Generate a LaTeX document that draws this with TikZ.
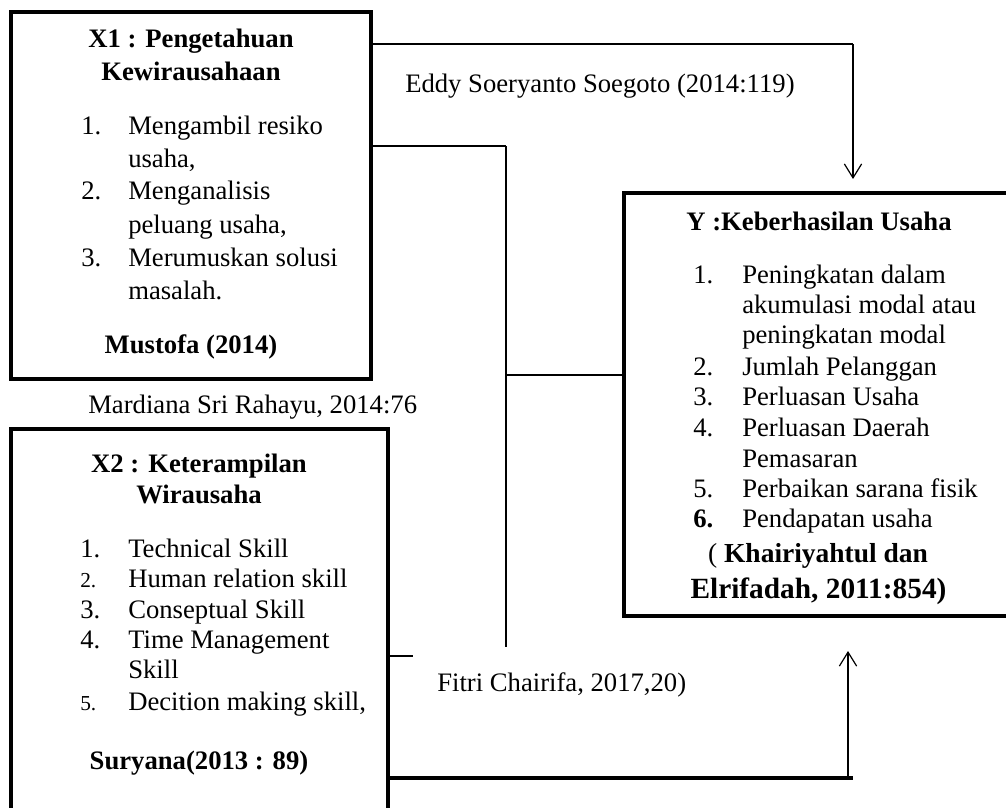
\documentclass[tikz,border=0pt]{standalone}
\usepackage{fontspec}
\setmainfont{Liberation Serif}
\usetikzlibrary{arrows.meta}
\begin{document}
\begin{tikzpicture}[x=0.75pt,y=-0.75pt,
  txt/.style={inner sep=0pt, anchor=base west, font=\fontsize{20}{24}\selectfont},
  ctr/.style={inner sep=0pt, anchor=base, font=\fontsize{20}{24}\selectfont\bfseries},
  smallnum/.style={inner sep=0pt, anchor=base west, font=\fontsize{16}{20}\selectfont},
  boxline/.style={line width=2.4pt, line join=miter},
  thickcon/.style={line width=1.8pt},
  thincon/.style={line width=0.9pt},
  arr/.style={thincon, -{Straight Barb[length=10.5pt,width=13pt,line width=0.9pt]}}]
\useasboundingbox (0,0) rectangle (1006,807);

% ---- boxes ----
\coordinate (x1tl) at (11,12);
\coordinate (x1br) at (371,379);
\draw[boxline] (x1tl) rectangle (x1br);

\coordinate (x2bl) at (11,812);
\coordinate (x2tl) at (11,429);
\coordinate (x2tr) at (388,429);
\coordinate (x2br) at (388,812);
\draw[boxline] (x2bl) -- (x2tl) -- (x2tr) -- (x2br);

\coordinate (ytr) at (1012,193);
\coordinate (ytl) at (624,193);
\coordinate (ybl) at (624,616);
\coordinate (ybr) at (1012,616);
\draw[boxline] (ytr) -- (ytl) -- (ybl) -- (ybr);

% ---- X1 text ----
\node[ctr] (x1t1) at (191,47) {X1 : Pengetahuan};
\node[ctr] (x1t2) at (191,80) {Kewirausahaan};
\node[txt] (x1n1) at (81,134) {1.};
\node[txt] (x1i1) at (128,134) {Mengambil resiko};
\node[txt] (x1i1b) at (128,167) {usaha,};
\node[txt] (x1n2) at (81,199) {2.};
\node[txt] (x1i2) at (128,199) {Menganalisis};
\node[txt] (x1i2b) at (128,233) {peluang usaha,};
\node[txt] (x1n3) at (81,266) {3.};
\node[txt] (x1i3) at (128,266) {Merumuskan solusi};
\node[txt] (x1i3b) at (128,299) {masalah.};
\node[ctr] (x1src) at (191,353) {Mustofa (2014)};

% ---- X2 text ----
\node[ctr] (x2t1) at (199,472) {X2 : Keterampilan};
\node[ctr] (x2t2) at (199,503) {Wirausaha};
\node[txt] (x2n1) at (80,557) {1.};
\node[txt] (x2i1) at (128,557) {Technical Skill};
\node[smallnum] (x2n2) at (80,587) {2.};
\node[txt] (x2i2) at (128,587) {Human relation skill};
\node[txt] (x2n3) at (80,618) {3.};
\node[txt] (x2i3) at (128,618) {Conseptual Skill};
\node[txt] (x2n4) at (80,648) {4.};
\node[txt] (x2i4) at (128,648) {Time Management};
\node[txt] (x2i4b) at (128,678) {Skill};
\node[smallnum] (x2n5) at (80,710) {5.};
\node[txt] (x2i5) at (128,710) {Decition making skill,};
\node[ctr] (x2src) at (199,769) {Suryana(2013 : 89)};

% ---- Y text ----
\node[ctr] (yt) at (819,230) {Y :Keberhasilan Usaha};
\node[txt] (yn1) at (693,283) {1.};
\node[txt] (yi1) at (742,283) {Peningkatan dalam};
\node[txt] (yi1b) at (742,313) {akumulasi modal atau};
\node[txt] (yi1c) at (742,343) {peningkatan modal};
\node[txt] (yn2) at (693,375) {2.};
\node[txt] (yi2) at (742,375) {Jumlah Pelanggan};
\node[txt] (yn3) at (693,405) {3.};
\node[txt] (yi3) at (742,405) {Perluasan Usaha};
\node[txt] (yn4) at (693,436) {4.};
\node[txt] (yi4) at (742,436) {Perluasan Daerah};
\node[txt] (yi4b) at (742,467) {Pemasaran};
\node[txt] (yn5) at (693,497) {5.};
\node[txt] (yi5) at (742,497) {Perbaikan sarana fisik};
\node[txt, font=\fontsize{20}{24}\selectfont\bfseries] (yn6) at (693,527) {6.};
\node[txt] (yi6) at (742,527) {Pendapatan usaha};
\node[inner sep=0pt, anchor=base, font=\fontsize{20.6}{24}\selectfont] (ysrc1) at (818,562) {( \textbf{Khairiyahtul dan}};
\node[inner sep=0pt, anchor=base, font=\fontsize{22}{26}\selectfont\bfseries] (ysrc2) at (818.5,598) {Elrifadah, 2011:854)};

% ---- connector labels ----
\node[txt] (l1) at (405,92) {Eddy Soeryanto Soegoto (2014:119)};
\node[txt] (l2) at (88,413) {Mardiana Sri Rahayu, 2014:76};
\node[txt] (l3) at (437,691) {Fitri Chairifa, 2017,20)};

% ---- connectors ----
\coordinate (a0) at (371,44);
\coordinate (a1) at (853,44);
\coordinate (a2) at (853,179);
\draw[thickcon] (a0) -- (a1);
\draw[arr] (a1) -- (a2);

\coordinate (b0) at (371,146);
\coordinate (b1) at (506,146);
\coordinate (b2) at (506,647);
\coordinate (b3) at (506,375);
\draw[thickcon] (b0) -- (b1);
\draw[thincon] (b1) -- (b2);
\draw[thincon] (b3) -- (ybl |- b3);

\coordinate (c0) at (388,656);
\coordinate (c1) at (413,656);
\draw[thincon] (c0) -- (c1);

\coordinate (d0) at (388,778);
\coordinate (d1) at (853,778);
\coordinate (d2) at (848,778);
\coordinate (d3) at (848,651);
\draw[line width=2.4pt] (d0) -- (d1);
\draw[arr] (d2) -- (d3);
\end{tikzpicture}
\end{document}
